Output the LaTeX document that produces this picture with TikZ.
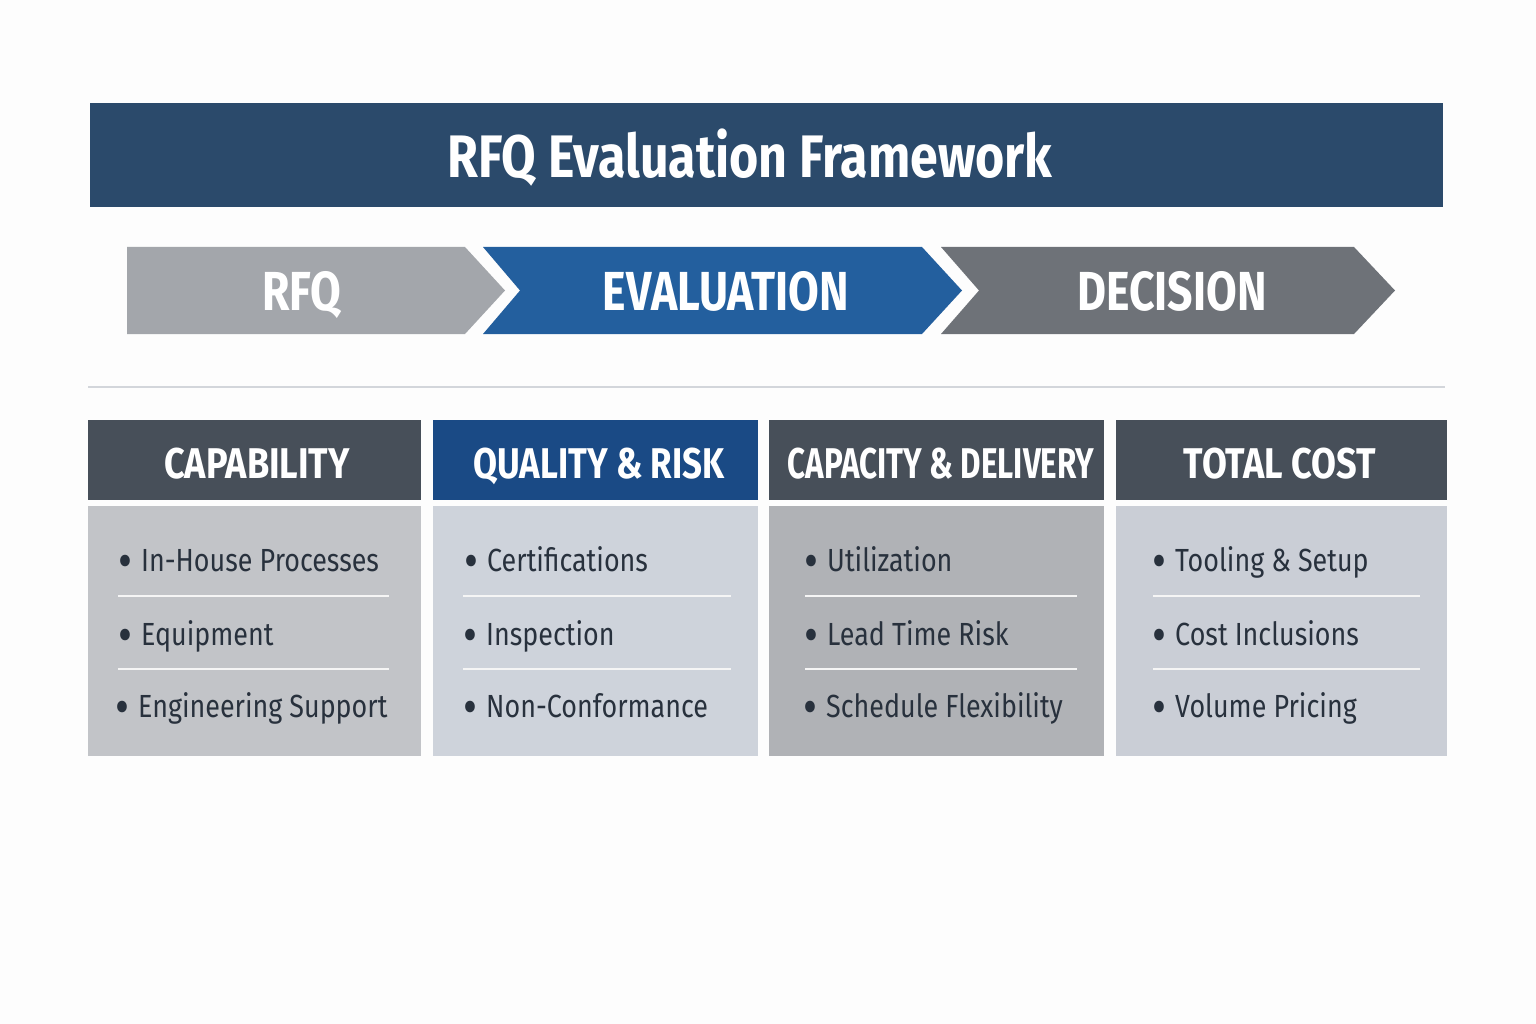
\documentclass[tikz,border=0pt]{standalone}
\usepackage{fontspec}
\setmainfont{Fira Sans}
\newfontfamily\titlefont[FakeStretch=0.835]{Fira Sans}
\newfontfamily\chevfont[FakeStretch=0.81]{Fira Sans}
\newfontfamily\hdfont[FakeStretch=0.84]{Fira Sans}
\newfontfamily\hdmid[FakeStretch=0.81]{Fira Sans}
\newfontfamily\hdnarrow[FakeStretch=0.73]{Fira Sans}
\newfontfamily\itemfont[FakeStretch=0.84]{Fira Sans}
\definecolor{titlebg}{HTML}{2B4A6B}
\definecolor{rfqc}{HTML}{A3A6AB}
\definecolor{evalc}{HTML}{235F9E}
\definecolor{decc}{HTML}{6E7278}
\definecolor{hdark}{HTML}{474F59}
\definecolor{hblue}{HTML}{1A4A85}
\definecolor{bodyA}{HTML}{C2C4C8}
\definecolor{bodyB}{HTML}{CED3DB}
\definecolor{bodyC}{HTML}{B0B2B6}
\definecolor{bodyD}{HTML}{CACED6}
\definecolor{itemc}{HTML}{28313D}
\definecolor{sepc}{HTML}{D3D6DB}
\newcommand{\bul}{\makebox[0pt][r]{\raisebox{-7.5pt}{\scalebox{1.6}{\textbullet}}\hspace{9pt}}}
\begin{document}
\begin{tikzpicture}[x=1pt,y=-1pt,
  chevtext/.style={text=white,font=\chevfont\bfseries\fontsize{55}{60}\selectfont,anchor=base,inner sep=0pt},
  headbox/.style={minimum height=80pt,inner sep=0pt,anchor=north west},
  headtext/.style={anchor=base,inner sep=0pt,text=white,font=\hdfont\bfseries\fontsize{43}{48}\selectfont},
  bodybox/.style={minimum height=250pt,inner sep=0pt,anchor=north west},
  item/.style={anchor=base west,inner sep=0pt,text=itemc,font=\itemfont\fontsize{32}{36}\selectfont},
  rule/.style={draw=white!92!gray,line width=1.6pt}
]
\useasboundingbox (0,0) rectangle (1536,1024);
\fill[white!98.5!gray] (0,0) rectangle (1536,1024);
% title
\node[fill=titlebg,minimum width=1353pt,minimum height=104pt,inner sep=0pt,anchor=north west] (titlebar) at (90,103) {};
\node[anchor=base,inner sep=0pt,text=white,font=\titlefont\bfseries\fontsize{60}{66}\selectfont] (title) at (750,178) {RFQ Evaluation Framework};
% chevrons
\fill[rfqc] (127,247) -- (465,247) -- (505,290.5) -- (465,334) -- (127,334) -- cycle;
\fill[evalc] (483,247) -- (922,247) -- (962,290.5) -- (922,334) -- (483,334) -- (520,290.5) -- cycle;
\fill[decc] (941,247) -- (1354,247) -- (1395,290.5) -- (1354,334) -- (941,334) -- (979,290.5) -- cycle;
\node[chevtext] (rfq) at (302,310) {RFQ};
\node[chevtext] (eval) at (726,310) {EVALUATION};
\node[chevtext] (dec) at (1172,310) {DECISION};
% separator
\coordinate (sepL) at (88,387);
\coordinate (sepR) at (1445,387);
\draw[sepc,line width=2.2pt] (sepL) -- (sepR);
% columns
\node[headbox,fill=hdark,minimum width=333pt] (h1) at (88,420) {};
\node[headbox,fill=hblue,minimum width=325pt] (h2) at (433,420) {};
\node[headbox,fill=hdark,minimum width=335pt] (h3) at (769,420) {};
\node[headbox,fill=hdark,minimum width=331pt] (h4) at (1116,420) {};
\node[headtext] (t1) at (257,478) {CAPABILITY};
\node[headtext,font=\hdmid\bfseries\fontsize{43}{48}\selectfont] (t2) at (599,478) {QUALITY \& RISK};
\node[headtext,font=\hdnarrow\bfseries\fontsize{43}{48}\selectfont] (t3) at (941,478) {CAPACITY \& DELIVERY};
\node[headtext] (t4) at (1280,478) {TOTAL COST};
\node[bodybox,fill=bodyA,minimum width=333pt] (b1) at (88,506) {};
\node[bodybox,fill=bodyB,minimum width=325pt] (b2) at (433,506) {};
\node[bodybox,fill=bodyC,minimum width=335pt] (b3) at (769,506) {};
\node[bodybox,fill=bodyD,minimum width=331pt] (b4) at (1116,506) {};
% column 1
\node[item] (i11) at (141,571) {\bul In-House Processes};
\node[item] (i12) at (141,645) {\bul Equipment};
\node[item] (i13) at (138,717) {\bul Engineering Support};
\draw[rule] (118,596) -- (389,596);
\draw[rule] (118,669) -- (389,669);
% column 2
\node[item] (i21) at (487,571) {\bul Certifications};
\node[item] (i22) at (486,645) {\bul Inspection};
\node[item] (i23) at (486,717) {\bul Non-Conformance};
\draw[rule] (463,596) -- (731,596);
\draw[rule] (463,669) -- (731,669);
% column 3
\node[item] (i31) at (827,571) {\bul Utilization};
\node[item] (i32) at (827,645) {\bul Lead Time Risk};
\node[item] (i33) at (826,717) {\bul Schedule Flexibility};
\draw[rule] (805,596) -- (1077,596);
\draw[rule] (805,669) -- (1077,669);
% column 4
\node[item] (i41) at (1175,571) {\bul Tooling \& Setup};
\node[item] (i42) at (1175,645) {\bul Cost Inclusions};
\node[item] (i43) at (1175,717) {\bul Volume Pricing};
\draw[rule] (1153,596) -- (1420,596);
\draw[rule] (1153,669) -- (1420,669);
\end{tikzpicture}
\end{document}
